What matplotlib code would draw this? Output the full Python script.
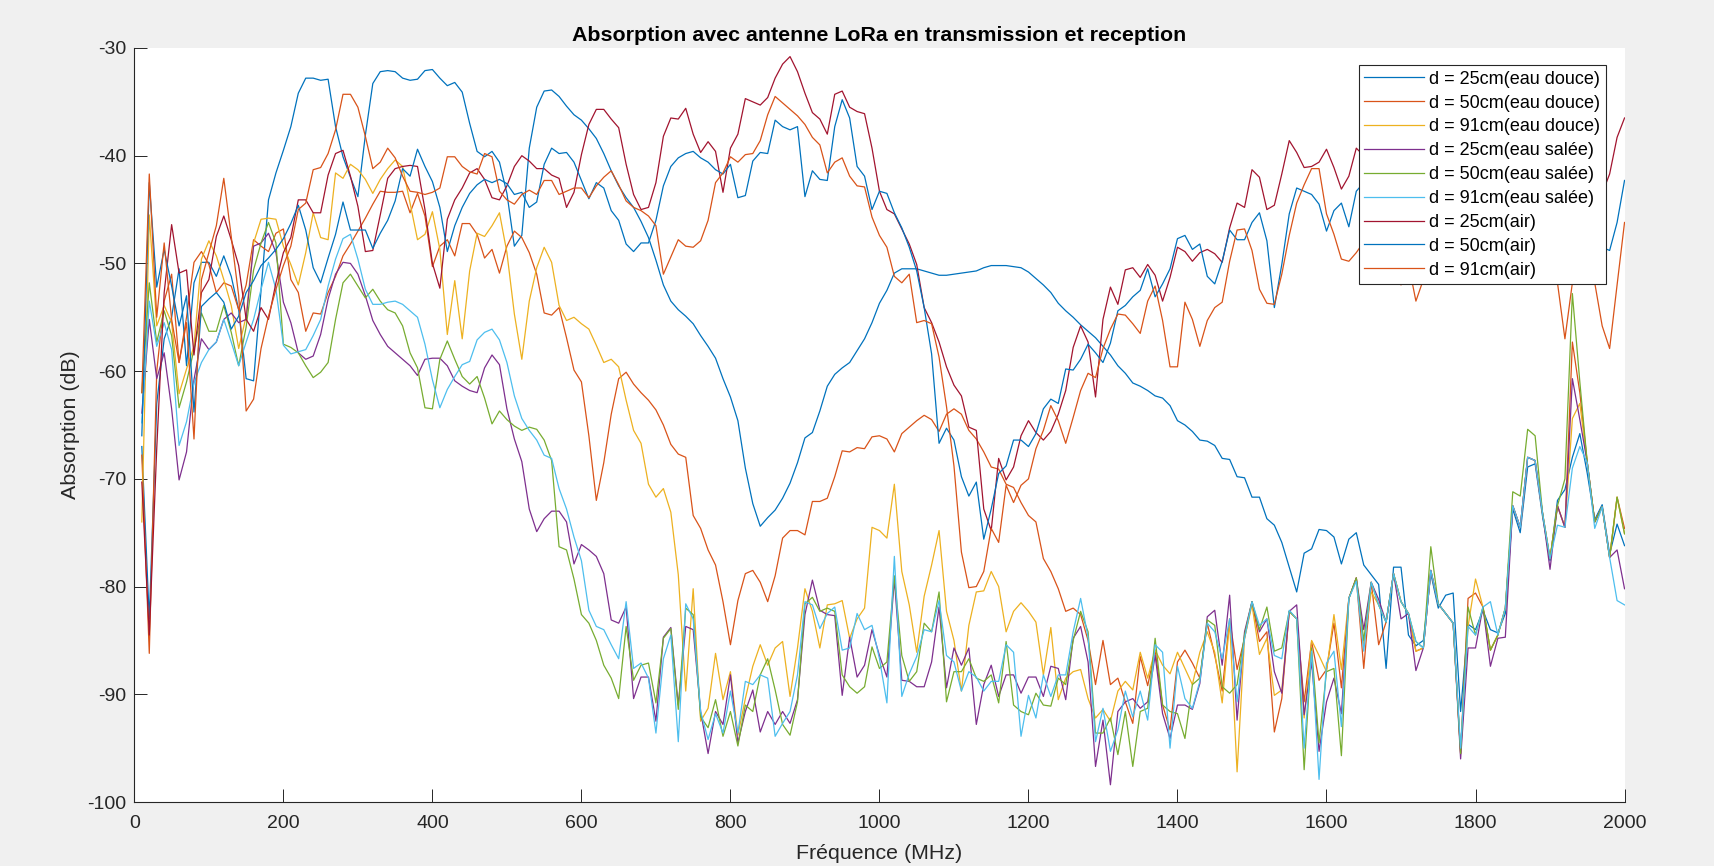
import matplotlib
matplotlib.use("Agg")
import matplotlib.pyplot as plt
import numpy as np

plt.rcParams['font.family'] = ['Liberation Sans', 'DejaVu Sans']
plt.rcParams['axes.unicode_minus'] = False

# frequency grid (MHz), one sample every 10 MHz
freq = np.arange(10, 2001, 10)

# absorption values (dB), 10 values per 100 MHz
d25_douce = [
    -67.0, -83.0, -63.0, -57.0, -55.0, -50.5, -59.5, -51.8, -49.9, -49.9,
    -51.2, -49.3, -51.2, -54.3, -60.7, -60.9, -52.5, -44.1, -41.6, -39.5,
    -37.3, -34.2, -32.8, -32.8, -33.0, -32.9, -37.3, -40.1, -42.0, -43.8,
    -38.1, -33.3, -32.2, -32.1, -32.2, -32.8, -33.0, -32.9, -32.1, -32.0,
    -32.8, -33.5, -33.2, -34.1, -37.0, -39.6, -40.1, -39.6, -40.6, -43.5,
    -48.4, -47.4, -39.3, -35.5, -34.0, -33.9, -34.5, -35.4, -36.2, -36.7,
    -37.5, -38.4, -39.8, -41.4, -42.8, -43.9, -44.8, -46.1, -47.6, -49.7,
    -52.0, -53.5, -54.3, -54.9, -55.6, -56.7, -57.7, -58.8, -60.7, -62.4,
    -64.6, -69.0, -72.3, -74.4, -73.6, -72.9, -71.8, -70.4, -68.5, -66.2,
    -65.7, -63.7, -61.4, -60.3, -59.7, -59.2, -58.1, -57.0, -55.5, -53.7,
    -52.5, -50.9, -50.5, -50.5, -50.5, -50.7, -50.9, -51.1, -51.1, -51.0,
    -50.9, -50.8, -50.7, -50.4, -50.2, -50.2, -50.2, -50.3, -50.4, -50.8,
    -51.4, -52.0, -52.7, -53.7, -54.4, -55.0, -55.7, -56.3, -56.9, -57.7,
    -58.5, -59.5, -60.2, -61.1, -61.4, -61.8, -62.3, -62.5, -63.2, -64.6,
    -65.0, -65.6, -66.4, -66.5, -66.9, -68.1, -68.2, -69.8, -69.9, -71.7,
    -71.7, -73.7, -74.3, -75.9, -78.2, -80.5, -76.9, -76.5, -74.7, -74.8,
    -75.4, -77.9, -75.6, -75.0, -78.0, -78.9, -79.8, -87.6, -78.2, -78.2,
    -84.5, -85.5, -85.0, -78.8, -82.0, -80.8, -80.6, -91.6, -83.5, -84.0,
    -82.2, -84.0, -84.3, -82.5, -72.8, -75.0, -68.9, -68.6, -73.5, -77.6,
    -72.0, -71.0, -68.0, -65.8, -69.5, -73.8, -72.4, -77.0, -74.2, -76.2,
]

d50_douce = [
    -67.8, -86.2, -60.0, -53.5, -51.0, -59.2, -55.0, -49.9, -48.9, -50.1,
    -52.7, -51.8, -52.1, -54.3, -52.0, -47.8, -48.4, -48.9, -47.2, -46.8,
    -51.5, -52.7, -56.3, -54.6, -54.7, -52.7, -51.2, -49.3, -48.2, -47.0,
    -45.8, -44.5, -43.3, -43.4, -43.4, -43.3, -45.3, -43.5, -45.6, -50.3,
    -48.4, -47.8, -49.3, -46.3, -46.3, -47.3, -49.5, -48.7, -50.9, -48.4,
    -47.0, -47.6, -49.0, -51.0, -54.6, -54.8, -54.1, -56.9, -59.9, -61.0,
    -66.0, -72.0, -68.5, -64.0, -60.7, -60.1, -61.2, -62.0, -62.7, -63.6,
    -65.0, -66.8, -67.7, -68.0, -73.4, -74.6, -76.6, -78.0, -81.4, -85.4,
    -81.3, -78.8, -78.5, -79.6, -81.4, -79.0, -75.5, -74.8, -74.8, -75.2,
    -72.1, -72.1, -71.8, -69.8, -67.4, -67.5, -67.1, -67.2, -66.1, -66.0,
    -66.3, -67.5, -65.8, -65.2, -64.6, -64.1, -64.5, -65.6, -64.0, -63.5,
    -64.0, -65.5, -66.3, -67.5, -68.9, -69.1, -70.5, -70.8, -72.2, -73.4,
    -74.0, -77.4, -78.6, -80.2, -82.3, -82.0, -82.6, -85.0, -89.1, -85.0,
    -89.1, -88.5, -90.7, -92.7, -86.5, -89.2, -85.9, -91.0, -93.3, -87.0,
    -85.9, -87.1, -88.5, -83.4, -86.4, -89.7, -83.0, -87.7, -84.8, -81.4,
    -85.1, -84.2, -93.5, -90.4, -82.3, -83.0, -90.7, -85.1, -88.7, -87.7,
    -83.4, -89.4, -81.1, -79.2, -87.6, -79.6, -85.4, -83.3, -78.8, -81.4,
    -82.5, -86.0, -85.7, -78.5, -81.6, -82.5, -83.4, -95.5, -81.1, -80.6,
    -81.9, -85.9, -84.5, -82.0, -72.5, -74.5, -68.0, -68.3, -73.2, -77.4,
    -72.5, -74.5, -57.3, -62.0, -68.5, -74.0, -72.6, -77.3, -71.7, -74.6,
]

d91_douce = [
    -74.0, -45.5, -55.8, -53.9, -55.5, -62.1, -59.8, -57.7, -49.6, -47.9,
    -49.3, -51.5, -53.9, -57.9, -54.9, -48.1, -45.9, -45.8, -45.9, -48.4,
    -50.1, -52.0, -49.0, -45.3, -47.6, -47.8, -41.6, -42.1, -40.8, -41.3,
    -42.2, -43.5, -42.2, -41.2, -40.4, -41.0, -44.4, -47.8, -47.3, -45.2,
    -48.7, -56.6, -51.6, -57.0, -50.7, -47.2, -47.5, -46.5, -45.3, -49.0,
    -54.7, -58.9, -53.5, -50.4, -48.5, -49.9, -53.9, -55.3, -55.0, -55.6,
    -56.1, -57.6, -59.2, -58.9, -59.6, -62.7, -65.5, -66.7, -70.5, -71.7,
    -70.9, -73.1, -78.9, -89.7, -80.2, -92.5, -91.3, -86.2, -90.5, -87.9,
    -93.8, -90.4, -87.4, -85.4, -87.3, -85.7, -85.1, -90.2, -85.7, -80.2,
    -82.3, -85.7, -81.7, -81.6, -81.3, -84.8, -83.0, -82.0, -74.5, -74.8,
    -75.5, -70.5, -78.6, -81.7, -86.1, -80.9, -78.0, -74.8, -82.3, -85.0,
    -89.7, -83.6, -80.5, -80.4, -78.6, -80.0, -84.2, -82.3, -81.5, -82.3,
    -83.3, -88.2, -83.8, -90.5, -88.5, -87.9, -87.7, -90.4, -92.2, -91.4,
    -92.5, -89.7, -88.8, -89.6, -86.1, -88.5, -85.9, -87.3, -88.1, -86.1,
    -87.6, -89.1, -86.1, -84.2, -86.1, -90.8, -83.3, -97.2, -84.8, -81.7,
    -86.3, -84.8, -90.1, -89.6, -82.3, -83.0, -92.2, -85.0, -86.4, -87.9,
    -82.6, -87.7, -81.1, -79.2, -85.4, -80.5, -81.7, -83.3, -78.8, -81.4,
    -82.5, -86.0, -85.7, -78.5, -81.6, -82.5, -83.4, -95.5, -83.7, -79.3,
    -81.9, -85.9, -84.5, -82.0, -72.5, -74.5, -68.0, -68.3, -73.2, -77.4,
    -72.5, -74.5, -64.4, -63.0, -68.5, -74.0, -72.6, -77.3, -71.7, -75.1,
]

d25_salee = [
    -63.9, -55.2, -60.7, -58.3, -63.5, -70.1, -67.5, -60.8, -57.0, -58.0,
    -57.3, -55.2, -54.6, -55.5, -55.2, -48.4, -48.1, -47.2, -49.0, -53.6,
    -55.5, -58.3, -58.9, -58.6, -56.6, -53.3, -51.0, -49.9, -50.0, -51.0,
    -53.0, -55.3, -56.6, -57.7, -58.3, -58.9, -59.5, -60.4, -58.9, -58.8,
    -58.8, -59.5, -60.9, -61.4, -61.8, -62.0, -59.7, -58.5, -59.4, -63.5,
    -66.3, -68.4, -72.8, -74.9, -73.7, -73.0, -73.0, -74.0, -77.9, -76.1,
    -76.6, -77.2, -78.8, -83.1, -83.4, -81.9, -90.4, -88.4, -88.4, -92.5,
    -84.7, -83.8, -91.0, -83.7, -84.0, -91.6, -95.5, -91.6, -92.8, -88.2,
    -94.5, -91.6, -89.6, -93.5, -91.6, -92.8, -91.6, -92.7, -90.5, -82.6,
    -79.4, -82.2, -82.6, -82.7, -90.1, -84.7, -88.4, -87.3, -84.0, -86.4,
    -88.4, -79.3, -88.7, -88.8, -89.3, -89.3, -87.0, -81.9, -89.4, -85.7,
    -87.3, -85.7, -92.8, -89.1, -87.3, -90.2, -88.2, -88.2, -89.9, -88.4,
    -88.4, -90.2, -87.4, -87.6, -90.5, -84.8, -83.7, -87.0, -96.7, -92.4,
    -98.4, -91.6, -90.7, -90.4, -91.3, -90.7, -86.4, -91.8, -94.1, -91.0,
    -91.0, -91.4, -89.0, -82.8, -82.2, -87.3, -80.8, -92.4, -84.2, -81.4,
    -84.2, -83.0, -87.9, -89.9, -82.3, -81.7, -91.9, -87.0, -95.3, -90.7,
    -88.5, -91.8, -81.1, -79.2, -84.0, -79.6, -81.2, -83.3, -78.8, -83.0,
    -82.5, -87.8, -85.7, -78.5, -81.6, -82.5, -83.4, -96.0, -85.7, -85.7,
    -81.9, -87.4, -84.8, -84.7, -72.5, -74.5, -68.0, -68.3, -73.2, -78.4,
    -72.5, -74.5, -60.7, -64.5, -68.5, -74.0, -72.6, -77.3, -76.6, -80.2,
]

d50_salee = [
    -62.0, -51.8, -57.3, -54.4, -56.7, -63.4, -61.0, -58.0, -54.6, -56.3,
    -56.3, -53.9, -56.4, -59.5, -55.9, -50.6, -48.1, -46.2, -48.1, -57.5,
    -57.8, -58.3, -59.5, -60.6, -60.1, -59.2, -55.2, -51.8, -51.0, -52.1,
    -53.2, -52.4, -53.5, -54.3, -54.6, -55.8, -58.3, -59.7, -63.4, -63.5,
    -58.9, -57.2, -58.9, -60.5, -61.2, -60.5, -62.5, -64.9, -63.7, -64.5,
    -65.1, -65.5, -65.2, -65.4, -66.4, -68.3, -76.3, -76.6, -79.3, -82.6,
    -83.4, -85.0, -87.3, -88.5, -90.4, -83.7, -88.7, -87.3, -87.1, -90.8,
    -84.8, -83.9, -91.4, -82.0, -82.6, -92.1, -93.1, -90.5, -93.9, -91.6,
    -94.8, -91.0, -91.6, -88.2, -86.7, -89.6, -92.8, -93.8, -90.7, -81.6,
    -81.0, -82.3, -82.0, -82.3, -88.2, -89.3, -89.9, -89.3, -85.6, -87.6,
    -87.0, -79.0, -86.4, -88.8, -87.9, -83.4, -84.2, -80.5, -90.7, -87.9,
    -87.9, -86.7, -88.5, -88.8, -88.2, -90.8, -85.1, -91.0, -91.6, -91.9,
    -89.9, -91.0, -91.1, -88.5, -89.1, -85.0, -82.3, -84.2, -93.6, -93.6,
    -92.2, -95.6, -91.6, -96.7, -91.6, -91.3, -84.8, -91.0, -91.6, -91.8,
    -94.1, -89.1, -88.5, -83.1, -83.6, -89.3, -89.9, -89.1, -84.5, -81.4,
    -84.0, -81.9, -86.0, -85.7, -82.3, -83.0, -97.0, -85.7, -94.5, -87.9,
    -87.6, -95.7, -81.1, -79.2, -85.0, -79.6, -81.7, -83.3, -78.8, -81.4,
    -82.5, -85.1, -85.7, -76.3, -81.6, -82.5, -83.4, -95.5, -81.9, -84.5,
    -81.9, -85.9, -84.5, -82.0, -71.2, -71.6, -65.4, -66.0, -73.2, -77.4,
    -72.5, -70.0, -52.8, -61.0, -68.5, -74.0, -72.6, -77.3, -71.7, -75.1,
]

d91_salee = [
    -64.8, -53.5, -57.7, -55.5, -58.0, -66.9, -64.7, -61.1, -59.2, -58.0,
    -57.3, -55.2, -57.3, -59.5, -57.3, -55.2, -52.4, -49.9, -52.4, -57.6,
    -58.4, -58.2, -58.0, -56.7, -55.2, -52.1, -49.6, -47.7, -47.3, -49.6,
    -52.4, -53.8, -53.8, -53.6, -53.5, -53.8, -54.4, -55.0, -57.5, -60.8,
    -63.4, -61.7, -60.5, -59.4, -59.1, -57.1, -56.4, -56.1, -57.1, -59.2,
    -62.3, -64.4, -65.5, -66.4, -67.8, -68.1, -70.9, -72.8, -75.4, -77.6,
    -82.2, -83.7, -84.0, -85.4, -86.7, -81.4, -87.6, -87.1, -88.5, -93.6,
    -86.7, -84.5, -94.4, -81.6, -83.0, -91.6, -94.2, -91.8, -93.6, -89.7,
    -93.6, -88.8, -89.1, -88.2, -88.5, -93.9, -92.7, -91.6, -88.2, -81.4,
    -81.7, -83.9, -82.5, -81.9, -85.9, -85.7, -82.5, -84.0, -83.6, -86.7,
    -90.8, -77.2, -90.2, -88.1, -86.5, -84.0, -84.2, -81.3, -86.4, -87.0,
    -89.7, -87.9, -88.4, -89.7, -88.8, -88.8, -85.4, -86.1, -93.9, -90.1,
    -92.2, -88.2, -90.2, -88.2, -88.2, -84.2, -81.1, -84.7, -94.4, -91.3,
    -95.3, -93.3, -89.7, -92.1, -89.7, -92.4, -85.4, -86.1, -95.0, -87.4,
    -90.4, -91.3, -88.8, -83.4, -84.2, -86.7, -83.0, -90.7, -84.8, -81.4,
    -83.6, -83.0, -86.4, -86.7, -82.2, -83.0, -95.0, -86.0, -97.9, -87.1,
    -86.0, -93.0, -81.1, -79.5, -86.0, -79.6, -81.7, -83.3, -78.8, -81.4,
    -82.5, -85.1, -85.7, -78.5, -81.6, -82.5, -83.4, -95.0, -83.7, -84.5,
    -81.9, -81.4, -84.5, -82.0, -72.5, -74.5, -68.0, -68.3, -73.2, -77.4,
    -74.3, -74.5, -69.0, -67.0, -68.5, -74.6, -72.6, -77.3, -81.3, -81.7,
]

d25_air = [
    -70.3, -84.5, -67.2, -52.7, -46.4, -50.9, -50.6, -58.5, -52.7, -51.5,
    -47.5, -45.6, -47.8, -50.2, -55.2, -56.3, -54.1, -55.2, -51.8, -49.0,
    -47.6, -44.1, -44.1, -45.3, -45.3, -41.8, -39.8, -39.5, -41.9, -44.7,
    -48.9, -48.8, -45.5, -42.1, -41.2, -41.0, -40.9, -41.0, -45.0, -50.0,
    -52.3, -45.9, -44.1, -43.0, -41.6, -41.2, -42.2, -43.9, -44.1, -42.8,
    -41.0, -40.0, -40.5, -41.2, -41.2, -41.8, -42.1, -44.8, -43.4, -39.9,
    -37.1, -35.7, -35.7, -36.6, -37.4, -40.8, -43.6, -45.0, -44.8, -42.5,
    -38.2, -36.5, -36.6, -35.6, -38.0, -39.7, -38.7, -39.6, -43.4, -39.3,
    -38.0, -34.7, -35.0, -35.3, -34.6, -32.8, -31.5, -30.8, -32.2, -34.2,
    -36.0, -36.6, -38.0, -34.3, -34.0, -35.5, -35.9, -36.1, -39.3, -43.3,
    -45.0, -45.4, -46.8, -48.2, -50.1, -54.1, -55.5, -57.3, -59.6, -61.3,
    -62.3, -65.2, -65.5, -72.8, -74.8, -68.1, -70.1, -68.9, -66.0, -64.6,
    -65.7, -66.4, -65.6, -64.0, -61.8, -57.8, -55.8, -57.3, -62.4, -55.2,
    -52.2, -53.8, -50.6, -50.4, -51.3, -50.1, -51.1, -53.5, -51.3, -48.5,
    -48.9, -49.8, -49.0, -48.7, -49.1, -49.9, -46.7, -44.4, -44.8, -41.3,
    -42.0, -45.0, -44.6, -41.7, -38.6, -39.7, -41.1, -41.0, -40.6, -39.4,
    -41.1, -43.1, -41.9, -39.3, -40.0, -41.5, -40.5, -39.0, -40.5, -42.0,
    -40.0, -38.5, -39.5, -41.0, -40.0, -38.5, -39.0, -41.0, -40.5, -39.5,
    -38.5, -40.0, -41.5, -40.0, -39.0, -40.5, -42.0, -41.0, -40.0, -41.5,
    -43.0, -42.0, -40.5, -41.5, -43.0, -42.5, -43.5, -41.7, -38.3, -36.5,
]

d50_air = [
    -66.0, -42.5, -52.2, -48.7, -52.1, -55.8, -53.0, -63.8, -54.0, -53.3,
    -52.7, -53.6, -56.1, -54.9, -52.7, -51.6, -50.2, -49.5, -48.7, -47.7,
    -46.3, -44.6, -46.9, -50.4, -51.8, -49.5, -47.3, -44.3, -46.9, -46.9,
    -46.9, -48.6, -47.2, -46.0, -44.2, -41.2, -41.9, -39.4, -41.0, -42.4,
    -44.8, -48.9, -46.5, -44.8, -43.5, -42.7, -42.2, -42.5, -42.2, -42.6,
    -43.6, -43.4, -44.8, -44.3, -40.8, -39.3, -39.8, -39.7, -40.6, -42.3,
    -44.0, -42.5, -43.0, -45.1, -46.0, -48.2, -48.9, -48.1, -48.1, -46.0,
    -42.8, -41.0, -40.2, -39.8, -39.6, -40.2, -40.6, -41.3, -41.7, -40.8,
    -43.9, -43.7, -40.5, -39.7, -39.8, -36.7, -37.3, -37.6, -37.3, -43.8,
    -41.4, -42.2, -42.3, -37.3, -34.8, -36.5, -41.0, -41.9, -45.0, -43.3,
    -43.5, -45.3, -46.7, -48.5, -50.7, -54.1, -58.4, -66.7, -65.3, -66.4,
    -69.8, -71.6, -70.3, -75.6, -72.8, -69.5, -68.8, -66.4, -66.4, -67.0,
    -65.8, -63.5, -62.6, -63.0, -59.8, -59.9, -58.9, -57.5, -58.3, -59.2,
    -57.4, -54.4, -53.9, -53.1, -52.5, -50.5, -53.1, -51.9, -50.5, -47.7,
    -47.4, -48.7, -48.2, -51.2, -51.9, -49.8, -46.9, -47.8, -47.8, -46.2,
    -45.3, -47.9, -54.1, -50.1, -45.4, -43.0, -43.3, -43.6, -44.5, -47.0,
    -45.1, -44.4, -46.6, -43.3, -42.5, -44.0, -45.5, -47.0, -46.0, -44.5,
    -45.5, -47.5, -46.0, -44.0, -45.0, -46.5, -48.0, -49.0, -47.0, -45.5,
    -46.5, -48.0, -47.0, -45.5, -46.5, -48.0, -47.5, -46.0, -47.5, -49.0,
    -48.0, -46.5, -47.5, -49.0, -48.0, -47.0, -48.5, -48.8, -46.2, -42.3,
]

d91_air = [
    -62.0, -41.7, -55.0, -48.1, -55.2, -59.2, -55.5, -66.3, -51.5, -49.0,
    -46.5, -42.1, -47.5, -53.0, -63.7, -62.6, -57.9, -54.9, -52.4, -50.2,
    -48.4, -45.0, -44.4, -41.3, -41.1, -39.8, -37.6, -34.3, -34.3, -35.5,
    -38.2, -41.2, -40.6, -39.3, -40.2, -41.9, -43.3, -43.4, -43.6, -43.4,
    -43.0, -40.1, -40.1, -41.0, -41.5, -41.7, -39.8, -40.1, -43.3, -44.1,
    -44.5, -43.6, -43.2, -43.6, -42.3, -42.3, -43.6, -43.3, -43.0, -43.0,
    -43.9, -42.8, -42.0, -41.4, -42.7, -44.2, -44.8, -45.1, -45.6, -46.5,
    -51.0, -49.4, -47.8, -48.4, -48.5, -47.9, -46.0, -42.5, -41.6, -40.1,
    -40.6, -39.9, -39.8, -38.6, -36.2, -34.5, -35.1, -35.7, -36.3, -37.1,
    -38.3, -39.0, -41.6, -40.6, -40.2, -41.9, -42.8, -42.9, -45.7, -47.4,
    -48.5, -51.2, -51.8, -51.0, -55.5, -55.3, -55.6, -58.7, -63.3, -68.8,
    -76.8, -80.1, -80.0, -78.6, -74.6, -75.9, -70.6, -72.2, -70.6, -70.0,
    -67.2, -65.5, -63.2, -64.6, -66.7, -64.3, -61.8, -60.2, -60.6, -57.9,
    -56.1, -54.7, -54.8, -55.6, -56.5, -53.5, -52.1, -55.3, -59.6, -59.6,
    -53.6, -55.2, -57.7, -55.3, -54.1, -53.6, -49.8, -46.9, -46.8, -48.8,
    -52.4, -53.7, -53.8, -51.0, -47.4, -44.4, -42.7, -41.2, -41.2, -45.4,
    -47.3, -49.6, -49.8, -49.0, -48.0, -46.0, -47.5, -49.0, -50.5, -52.0,
    -50.0, -53.5, -51.5, -49.0, -47.0, -46.0, -48.0, -50.0, -47.0, -45.0,
    -46.5, -48.0, -46.0, -44.5, -45.5, -47.0, -46.0, -48.0, -49.5, -48.0,
    -51.8, -57.0, -51.8, -49.0, -50.0, -51.8, -55.8, -57.9, -52.0, -46.2,
]

labels = [
    "d = 25cm(eau douce)", "d = 50cm(eau douce)", "d = 91cm(eau douce)",
    "d = 25cm(eau salée)", "d = 50cm(eau salée)", "d = 91cm(eau salée)",
    "d = 25cm(air)", "d = 50cm(air)", "d = 91cm(air)",
]
series = [d25_douce, d50_douce, d91_douce, d25_salee, d50_salee, d91_salee,
          d25_air, d50_air, d91_air]
# MATLAB default colour order, cycling after seven
colors = ["#0072BD", "#D95319", "#EDB120", "#7E2F8E", "#77AC30", "#4DBEEE",
          "#A2142F", "#0072BD", "#D95319"]

fig = plt.figure(figsize=(17.14, 8.66), dpi=100, facecolor="#F0F0F0")
ax = fig.add_axes([0.0784, 0.0739, 0.8694, 0.8707])
ax.set_facecolor("white")

for vals, lab, col in zip(series, labels, colors):
    ax.plot(freq, vals, color=col, linewidth=0.9, label=lab)

ax.set_xlim(0, 2000)
ax.set_ylim(-100, -30)
ax.set_xticks(np.arange(0, 2001, 200))
ax.set_yticks(np.arange(-100, -29, 10))

txt = "#262626"
for side in ["top", "right"]:
    ax.spines[side].set_visible(False)
for side in ["left", "bottom"]:
    ax.spines[side].set_color(txt)
    ax.spines[side].set_linewidth(0.8)
ax.tick_params(direction="in", length=9.4, width=0.7, colors=txt,
               labelsize=14, labelcolor=txt)
ax.tick_params(axis="x", pad=9)
ax.tick_params(axis="y", pad=6)

ax.set_xlabel("Fréquence (MHz)", fontsize=15.4, color=txt, labelpad=9)
ax.set_ylabel("Absorption (dB)", fontsize=15.4, color=txt, labelpad=5)
ax.set_title("Absorption avec antenne LoRa en transmission et reception",
             fontsize=15.4, fontweight="bold", color="black", pad=5)

leg = ax.legend(loc="upper right", bbox_to_anchor=(0.9874, 0.9771),
                borderaxespad=0, fontsize=13, frameon=True, fancybox=False,
                framealpha=1, edgecolor=txt, handlelength=3.3,
                handletextpad=0.3, labelspacing=0.38, borderpad=0.3)
leg.get_frame().set_linewidth(0.8)
for t in leg.get_texts():
    t.set_color("black")

fig.savefig("out.png", dpi=100, facecolor=fig.get_facecolor())
